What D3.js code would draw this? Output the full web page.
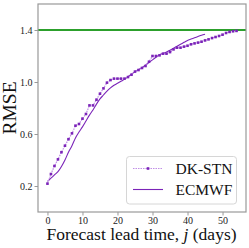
<!DOCTYPE html>
<html>
<head>
<meta charset="utf-8">
<script src="https://cdn.jsdelivr.net/npm/d3@7"></script>
<style>
  html, body { margin: 0; padding: 0; background: #fff; }
  svg { display: block; }
</style>
</head>
<body>
<svg id="chart" width="249" height="248"></svg>
<script>
// lead time in days
const dkDays = [0,1,2,3,4,5,6,7,8,9,10,11,12,13,14,15,16,17,18,19,20,21,22,23,24,25,26,27,
  28,29,30,31,32,33,34,35,36,37,38,39,40,41,42,43,44,45,46,47,48,49,50,51,52,53,54];
const dkRmse = [0.218,0.292,0.354,0.405,0.46,0.51,0.56,0.605,0.664,0.677,0.718,0.754,0.82,0.82,
  0.864,0.91,0.951,0.995,1.015,1.026,1.026,1.026,1.026,1.038,1.056,1.08,1.092,1.108,1.123,1.156,
  1.2,1.2,1.205,1.218,1.218,1.23,1.251,1.264,1.264,1.272,1.279,1.29,1.297,1.303,1.31,1.32,1.328,
  1.338,1.346,1.354,1.364,1.377,1.385,1.39,1.393];

const ecDays = [0,1,2,3,4,5,6,7,8,9,10,11,12,13,14,15,16,17,18,19,20,21,22,23,24,25,26,27,
  28,29,30,31,32,33,34,35,36,37,38,39,40,41,42,43,44,45];
const ecRmse = [0.235,0.26,0.285,0.31,0.35,0.40,0.46,0.51,0.57,0.615,0.655,0.70,0.745,0.785,
  0.83,0.87,0.90,0.93,0.955,0.975,0.99,1.005,1.02,1.04,1.06,1.08,1.095,1.11,1.13,1.15,1.17,
  1.19,1.21,1.22,1.23,1.245,1.26,1.275,1.29,1.305,1.32,1.33,1.34,1.35,1.36,1.368];

const limitValue = 1.4;
const xTicks = [0, 10, 20, 30, 40, 50];
const yTicks = [0.2, 0.6, 1.0, 1.4];
const seriesNames = ["DK-STN", "ECMWF"];

const serif = "'Liberation Serif', 'DejaVu Serif', serif";
const svg = d3.select("#chart");
const plotLeft = 38, plotRight = 246, plotTop = 4, plotBottom = 212;

const x = d3.scaleLinear().domain([-2.7, 56.7]).range([plotLeft, plotRight]);
const y = d3.scaleLinear().domain([0, 1.6]).range([plotBottom, plotTop]);

const purple = "#7b24b8";
const lightPurple = "#c08ee6";

// axes
const xAxis = svg.append("g")
  .attr("transform", `translate(0,${plotBottom})`)
  .call(d3.axisBottom(x).tickValues(xTicks).tickSize(3.5).tickPadding(1.5).tickFormat(d3.format("d")));
const yAxis = svg.append("g")
  .attr("transform", `translate(${plotLeft},0)`)
  .call(d3.axisLeft(y).tickValues(yTicks).tickSize(3.5).tickPadding(2).tickFormat(d3.format(".1f")));

[xAxis, yAxis].forEach(a => {
  a.attr("font-family", null).attr("font-size", null);
  a.select(".domain").remove();
  a.selectAll(".tick line").attr("stroke", "#999").attr("stroke-width", 1);
  a.selectAll(".tick text").attr("fill", "#222").style("font-size", "10px");
});

// green reference line
svg.append("line")
  .attr("x1", plotLeft).attr("x2", plotRight)
  .attr("y1", y(limitValue)).attr("y2", y(limitValue))
  .attr("stroke", "#2ca02c").attr("stroke-width", 2);

const dkData = dkDays.map((d, i) => ({ day: d, v: dkRmse[i] }));
const ecData = ecDays.map((d, i) => ({ day: d, v: ecRmse[i] }));

// ECMWF solid
svg.append("path")
  .datum(ecData)
  .attr("d", d3.line().x(d => x(d.day)).y(d => y(d.v)).curve(d3.curveMonotoneX))
  .attr("fill", "none")
  .attr("stroke", purple)
  .attr("stroke-width", 1.1);

// DK-STN dotted + square markers
svg.append("path")
  .datum(dkData)
  .attr("d", d3.line().x(d => x(d.day)).y(d => y(d.v)))
  .attr("fill", "none")
  .attr("stroke", lightPurple)
  .attr("stroke-width", 1.2)
  .attr("stroke-dasharray", "1.5,1");

svg.append("g")
  .selectAll("rect")
  .data(dkData)
  .enter().append("rect")
  .attr("x", d => x(d.day) - 1.3)
  .attr("y", d => y(d.v) - 1.3)
  .attr("width", 2.6)
  .attr("height", 2.6)
  .attr("fill", purple);

// frame
svg.append("rect")
  .attr("x", plotLeft).attr("y", plotTop)
  .attr("width", plotRight - plotLeft).attr("height", plotBottom - plotTop)
  .attr("fill", "none")
  .attr("stroke", "#999")
  .attr("stroke-width", 1.2);

// legend
const legend = svg.append("g");
legend.append("rect")
  .attr("x", 126.5).attr("y", 156.5)
  .attr("width", 110).attr("height", 47.5)
  .attr("rx", 3)
  .attr("fill", "#fff")
  .attr("fill-opacity", 0.85)
  .attr("stroke", "#d6d6d6")
  .attr("stroke-width", 1);

const legendRows = [168.5, 189.5];
legend.append("line")
  .attr("x1", 133).attr("x2", 163)
  .attr("y1", legendRows[0]).attr("y2", legendRows[0])
  .attr("stroke", lightPurple).attr("stroke-width", 1.2).attr("stroke-dasharray", "1.5,1");
legend.append("rect")
  .attr("x", 148 - 1.3).attr("y", legendRows[0] - 1.3)
  .attr("width", 2.6).attr("height", 2.6)
  .attr("fill", purple);
legend.append("line")
  .attr("x1", 133).attr("x2", 163)
  .attr("y1", legendRows[1]).attr("y2", legendRows[1])
  .attr("stroke", purple).attr("stroke-width", 1.1);

legend.selectAll("text")
  .data(seriesNames)
  .enter().append("text")
  .attr("x", 175.5)
  .attr("y", (d, i) => legendRows[i] + 5.5)
  .attr("fill", "#111")
  .style("font-size", "15.5px")
  .text(d => d);

// axis labels
svg.append("text")
  .attr("transform", "translate(16,108) rotate(-90)")
  .attr("text-anchor", "middle")
  .attr("fill", "#111")
  .style("font-size", "19.5px")
  .text("RMSE");

const xl = svg.append("text")
  .attr("x", 141.5)
  .attr("y", 239.5)
  .attr("text-anchor", "middle")
  .attr("fill", "#111")
  .style("font-size", "17.5px");
xl.append("tspan").text("Forecast lead time, ");
xl.append("tspan").style("font-style", "italic").text("j");
xl.append("tspan").text(" (days)");

// serif everywhere, as in the original figure
svg.selectAll("text").style("font-family", serif);
</script>
</body>
</html>
